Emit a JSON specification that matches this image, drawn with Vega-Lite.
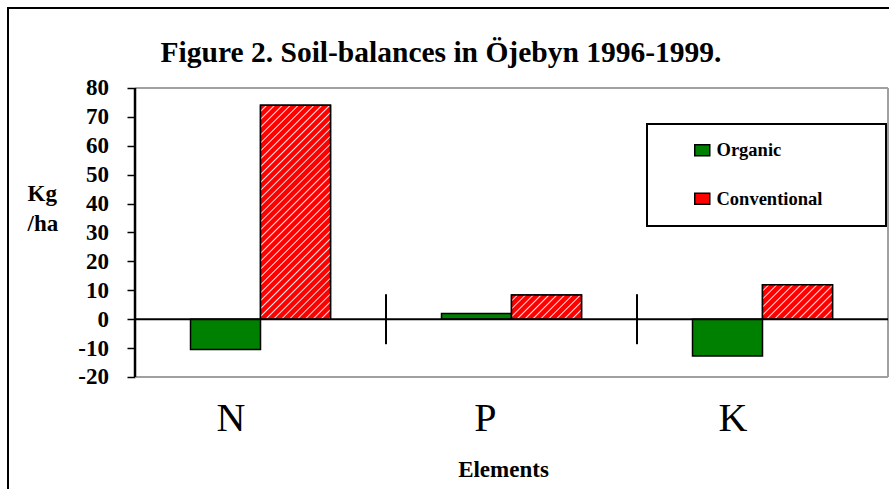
{
  "$schema": "https://vega.github.io/schema/vega-lite/v6.json",
  "width": 882,
  "height": 482,
  "padding": {"left": 8, "top": 8, "right": 0, "bottom": 0},
  "autosize": {"type": "pad"},
  "background": "white",
  "title": {
    "text": "Figure 2. Soil-balances in Öjebyn 1996-1999.",
    "font": "Liberation Serif", "fontSize": 29.5, "fontWeight": "bold", "color": "black",
    "anchor": "middle", "frame": "group", "orient": "top", "offset": 0,
    "baseline": "alphabetic", "dx": -8, "dy": 83
  },
  "config": {
    "font": "Liberation Serif",
    "view": {"stroke": "black", "strokeWidth": 2},
    "axis": {"labelFont": "Liberation Serif", "titleFont": "Liberation Serif"},
    "legend": {"strokeWidth": 2, "labelFont": "Liberation Serif", "titleFont": "Liberation Serif"}
  },
  "datasets": {
    "balances": [
      {"Element": "N", "Group": "Organic", "Balance": -10.5},
      {"Element": "N", "Group": "Conventional", "Balance": 74},
      {"Element": "P", "Group": "Organic", "Balance": 2},
      {"Element": "P", "Group": "Conventional", "Balance": 8.4},
      {"Element": "K", "Group": "Organic", "Balance": -12.7},
      {"Element": "K", "Group": "Conventional", "Balance": 11.9}
    ],
    "separators": [{"Element": "P"}, {"Element": "K"}],
    "one": [{}]
  },
  "layer": [
    {
      "data": {"name": "one"},
      "mark": {"type": "rule", "color": "#a0a0a0", "strokeWidth": 2},
      "encoding": {
        "x": {"datum": "N", "type": "nominal", "bandPosition": 0},
        "x2": {"datum": "K", "bandPosition": 1},
        "y": {"datum": 80, "type": "quantitative"}
      }
    },
    {
      "data": {"name": "one"},
      "mark": {"type": "rule", "color": "#a0a0a0", "strokeWidth": 2},
      "encoding": {
        "x": {"datum": "N", "type": "nominal", "bandPosition": 0},
        "x2": {"datum": "K", "bandPosition": 1},
        "y": {"datum": -20, "type": "quantitative"}
      }
    },
    {
      "data": {"name": "one"},
      "mark": {"type": "rule", "color": "#a0a0a0", "strokeWidth": 2},
      "encoding": {
        "x": {"datum": "K", "type": "nominal", "bandPosition": 1},
        "y": {"datum": -20, "type": "quantitative"},
        "y2": {"datum": 80}
      }
    },
    {
      "data": {"name": "balances"},
      "mark": {"type": "bar", "stroke": "black", "strokeWidth": 1.5},
      "encoding": {
        "x": {
          "field": "Element", "type": "nominal", "sort": ["N", "P", "K"],
          "scale": {"domain": ["N", "P", "K"], "paddingInner": 0, "paddingOuter": 0.257, "align": 0.9845},
          "axis": {
            "orient": "bottom", "offset": -113, "domain": false, "ticks": false, "tickSize": 0, "grid": false,
            "labelFont": "Liberation Serif", "labelFontSize": 40, "labelFontWeight": "normal", "labelColor": "black",
            "labelBaseline": "alphabetic", "labelPadding": 53, "labelOffset": -15, "labelAngle": 0,
            "labelOverlap": false, "labelFlush": false,
            "title": "Elements", "titleFont": "Liberation Serif", "titleFontSize": 23, "titleFontWeight": "bold",
            "titleColor": "black", "titleX": 495, "titleY": 99, "titleBaseline": "alphabetic", "titleAlign": "center"
          }
        },
        "xOffset": {
          "field": "Group", "type": "nominal", "sort": ["Organic", "Conventional"],
          "scale": {"domain": ["Organic", "Conventional"], "paddingInner": 0, "paddingOuter": 0.793}
        },
        "y": {
          "field": "Balance", "type": "quantitative",
          "scale": {"domain": [-59.1, 107.68], "nice": false, "zero": false},
          "axis": {
            "orient": "left", "offset": -127, "values": [-20, -10, 0, 10, 20, 30, 40, 50, 60, 70, 80],
            "domain": false, "grid": false, "ticks": true, "tickSize": 8, "tickWidth": 1.5, "tickColor": "black",
            "labelFont": "Liberation Serif", "labelFontWeight": "bold", "labelFontSize": 23, "labelColor": "black",
            "labelPadding": 18.5, "labelExpr": "'' + datum.value", "labelOverlap": false, "labelFlush": false,
            "title": ["Kg", "/ha"], "titleAngle": 0, "titleAlign": "left", "titleBaseline": "alphabetic",
            "titleX": -108, "titleY": 192.7, "titleFont": "Liberation Serif", "titleFontSize": 23,
            "titleFontWeight": "bold", "titleColor": "black", "titleLineHeight": 29.5
          }
        },
        "color": {
          "field": "Group", "type": "nominal", "sort": ["Organic", "Conventional"],
          "scale": {"domain": ["Organic", "Conventional"], "range": ["#008000", "#ff0000"]},
          "legend": {
            "orient": "none", "legendX": 639, "legendY": 116,
            "title": "\u00a0", "titleOrient": "right", "titlePadding": 47, "titleFontSize": 2,
            "fillColor": "white", "strokeColor": "black", "padding": 17,
            "labelFont": "Liberation Serif", "labelFontWeight": "bold", "labelFontSize": 18.5, "labelColor": "black",
            "labelOffset": 5, "rowPadding": 29.5, "symbolOffset": 29,
            "symbolType": "M-1,-0.73H1V0.73H-1Z", "symbolSize": 225,
            "symbolStrokeColor": "black", "symbolStrokeWidth": 1.5
          }
        }
      }
    },
    {
      "data": {"name": "balances"},
      "transform": [{"filter": "datum.Group === 'Conventional'"}],
      "mark": {"type": "bar", "stroke": "black", "strokeWidth": 1.5},
      "encoding": {
        "x": {"field": "Element", "type": "nominal", "sort": ["N", "P", "K"]},
        "xOffset": {"field": "Group", "type": "nominal", "sort": ["Organic", "Conventional"]},
        "y": {"field": "Balance", "type": "quantitative"},
        "fill": {
          "condition": [
            {
              "test": "datum.Element === 'N'",
              "value": {
                "gradient": "linear", "x1": 0, "y1": 0, "x2": 0.3922, "y2": 1.1989,
                "stops": [
                  {"offset": 0, "color": "#ff0000"},
                  {"offset": 0.0167, "color": "#ff0000"}, {"offset": 0.0217, "color": "#ffe6e6"}, {"offset": 0.0267, "color": "#ff0000"},
                  {"offset": 0.0444, "color": "#ff0000"}, {"offset": 0.0494, "color": "#ffe6e6"}, {"offset": 0.0544, "color": "#ff0000"},
                  {"offset": 0.0722, "color": "#ff0000"}, {"offset": 0.0772, "color": "#ffe6e6"}, {"offset": 0.0822, "color": "#ff0000"},
                  {"offset": 0.1000, "color": "#ff0000"}, {"offset": 0.1050, "color": "#ffe6e6"}, {"offset": 0.1100, "color": "#ff0000"},
                  {"offset": 0.1278, "color": "#ff0000"}, {"offset": 0.1328, "color": "#ffe6e6"}, {"offset": 0.1378, "color": "#ff0000"},
                  {"offset": 0.1556, "color": "#ff0000"}, {"offset": 0.1606, "color": "#ffe6e6"}, {"offset": 0.1656, "color": "#ff0000"},
                  {"offset": 0.1833, "color": "#ff0000"}, {"offset": 0.1883, "color": "#ffe6e6"}, {"offset": 0.1933, "color": "#ff0000"},
                  {"offset": 0.2111, "color": "#ff0000"}, {"offset": 0.2161, "color": "#ffe6e6"}, {"offset": 0.2211, "color": "#ff0000"},
                  {"offset": 0.2389, "color": "#ff0000"}, {"offset": 0.2439, "color": "#ffe6e6"}, {"offset": 0.2489, "color": "#ff0000"},
                  {"offset": 0.2667, "color": "#ff0000"}, {"offset": 0.2717, "color": "#ffe6e6"}, {"offset": 0.2767, "color": "#ff0000"},
                  {"offset": 0.2944, "color": "#ff0000"}, {"offset": 0.2994, "color": "#ffe6e6"}, {"offset": 0.3044, "color": "#ff0000"},
                  {"offset": 0.3222, "color": "#ff0000"}, {"offset": 0.3272, "color": "#ffe6e6"}, {"offset": 0.3322, "color": "#ff0000"},
                  {"offset": 0.3500, "color": "#ff0000"}, {"offset": 0.3550, "color": "#ffe6e6"}, {"offset": 0.3600, "color": "#ff0000"},
                  {"offset": 0.3778, "color": "#ff0000"}, {"offset": 0.3828, "color": "#ffe6e6"}, {"offset": 0.3878, "color": "#ff0000"},
                  {"offset": 0.4056, "color": "#ff0000"}, {"offset": 0.4106, "color": "#ffe6e6"}, {"offset": 0.4156, "color": "#ff0000"},
                  {"offset": 0.4333, "color": "#ff0000"}, {"offset": 0.4383, "color": "#ffe6e6"}, {"offset": 0.4433, "color": "#ff0000"},
                  {"offset": 0.4611, "color": "#ff0000"}, {"offset": 0.4661, "color": "#ffe6e6"}, {"offset": 0.4711, "color": "#ff0000"},
                  {"offset": 0.4889, "color": "#ff0000"}, {"offset": 0.4939, "color": "#ffe6e6"}, {"offset": 0.4989, "color": "#ff0000"},
                  {"offset": 0.5167, "color": "#ff0000"}, {"offset": 0.5217, "color": "#ffe6e6"}, {"offset": 0.5267, "color": "#ff0000"},
                  {"offset": 0.5444, "color": "#ff0000"}, {"offset": 0.5494, "color": "#ffe6e6"}, {"offset": 0.5544, "color": "#ff0000"},
                  {"offset": 0.5722, "color": "#ff0000"}, {"offset": 0.5772, "color": "#ffe6e6"}, {"offset": 0.5822, "color": "#ff0000"},
                  {"offset": 0.6000, "color": "#ff0000"}, {"offset": 0.6050, "color": "#ffe6e6"}, {"offset": 0.6100, "color": "#ff0000"},
                  {"offset": 0.6278, "color": "#ff0000"}, {"offset": 0.6328, "color": "#ffe6e6"}, {"offset": 0.6378, "color": "#ff0000"},
                  {"offset": 0.6556, "color": "#ff0000"}, {"offset": 0.6606, "color": "#ffe6e6"}, {"offset": 0.6656, "color": "#ff0000"},
                  {"offset": 0.6833, "color": "#ff0000"}, {"offset": 0.6883, "color": "#ffe6e6"}, {"offset": 0.6933, "color": "#ff0000"},
                  {"offset": 0.7111, "color": "#ff0000"}, {"offset": 0.7161, "color": "#ffe6e6"}, {"offset": 0.7211, "color": "#ff0000"},
                  {"offset": 0.7389, "color": "#ff0000"}, {"offset": 0.7439, "color": "#ffe6e6"}, {"offset": 0.7489, "color": "#ff0000"},
                  {"offset": 0.7667, "color": "#ff0000"}, {"offset": 0.7717, "color": "#ffe6e6"}, {"offset": 0.7767, "color": "#ff0000"},
                  {"offset": 0.7944, "color": "#ff0000"}, {"offset": 0.7994, "color": "#ffe6e6"}, {"offset": 0.8044, "color": "#ff0000"},
                  {"offset": 0.8222, "color": "#ff0000"}, {"offset": 0.8272, "color": "#ffe6e6"}, {"offset": 0.8322, "color": "#ff0000"},
                  {"offset": 0.8500, "color": "#ff0000"}, {"offset": 0.8550, "color": "#ffe6e6"}, {"offset": 0.8600, "color": "#ff0000"},
                  {"offset": 0.8778, "color": "#ff0000"}, {"offset": 0.8828, "color": "#ffe6e6"}, {"offset": 0.8878, "color": "#ff0000"},
                  {"offset": 0.9056, "color": "#ff0000"}, {"offset": 0.9106, "color": "#ffe6e6"}, {"offset": 0.9156, "color": "#ff0000"},
                  {"offset": 0.9333, "color": "#ff0000"}, {"offset": 0.9383, "color": "#ffe6e6"}, {"offset": 0.9433, "color": "#ff0000"},
                  {"offset": 0.9611, "color": "#ff0000"}, {"offset": 0.9661, "color": "#ffe6e6"}, {"offset": 0.9711, "color": "#ff0000"},
                  {"offset": 0.9889, "color": "#ff0000"}, {"offset": 0.9939, "color": "#ffe6e6"}, {"offset": 0.9989, "color": "#ff0000"},
                  {"offset": 1, "color": "#ff0000"}
                ]
              }
            },
            {
              "test": "datum.Element === 'P'",
              "value": {
                "gradient": "linear", "x1": 0, "y1": 0, "x2": 1.2023, "y2": 0.4174,
                "stops": [
                  {"offset": 0, "color": "#ff0000"},
                  {"offset": 0.05, "color": "#ff0000"}, {"offset": 0.065, "color": "#ffe6e6"}, {"offset": 0.08, "color": "#ff0000"},
                  {"offset": 0.1333, "color": "#ff0000"}, {"offset": 0.1483, "color": "#ffe6e6"}, {"offset": 0.1633, "color": "#ff0000"},
                  {"offset": 0.2167, "color": "#ff0000"}, {"offset": 0.2317, "color": "#ffe6e6"}, {"offset": 0.2467, "color": "#ff0000"},
                  {"offset": 0.3, "color": "#ff0000"}, {"offset": 0.315, "color": "#ffe6e6"}, {"offset": 0.33, "color": "#ff0000"},
                  {"offset": 0.3833, "color": "#ff0000"}, {"offset": 0.3983, "color": "#ffe6e6"}, {"offset": 0.4133, "color": "#ff0000"},
                  {"offset": 0.4667, "color": "#ff0000"}, {"offset": 0.4817, "color": "#ffe6e6"}, {"offset": 0.4967, "color": "#ff0000"},
                  {"offset": 0.55, "color": "#ff0000"}, {"offset": 0.565, "color": "#ffe6e6"}, {"offset": 0.58, "color": "#ff0000"},
                  {"offset": 0.6333, "color": "#ff0000"}, {"offset": 0.6483, "color": "#ffe6e6"}, {"offset": 0.6633, "color": "#ff0000"},
                  {"offset": 0.7167, "color": "#ff0000"}, {"offset": 0.7317, "color": "#ffe6e6"}, {"offset": 0.7467, "color": "#ff0000"},
                  {"offset": 0.8, "color": "#ff0000"}, {"offset": 0.815, "color": "#ffe6e6"}, {"offset": 0.83, "color": "#ff0000"},
                  {"offset": 0.8833, "color": "#ff0000"}, {"offset": 0.8983, "color": "#ffe6e6"}, {"offset": 0.9133, "color": "#ff0000"},
                  {"offset": 0.9667, "color": "#ff0000"}, {"offset": 0.9817, "color": "#ffe6e6"}, {"offset": 0.9967, "color": "#ff0000"},
                  {"offset": 1, "color": "#ff0000"}
                ]
              }
            }
          ],
          "value": {
            "gradient": "linear", "x1": 0, "y1": 0, "x2": 1.2013, "y2": 0.5904,
            "stops": [
              {"offset": 0, "color": "#ff0000"},
              {"offset": 0.0462, "color": "#ff0000"}, {"offset": 0.06, "color": "#ffe6e6"}, {"offset": 0.0738, "color": "#ff0000"},
              {"offset": 0.1231, "color": "#ff0000"}, {"offset": 0.1369, "color": "#ffe6e6"}, {"offset": 0.1508, "color": "#ff0000"},
              {"offset": 0.2, "color": "#ff0000"}, {"offset": 0.2138, "color": "#ffe6e6"}, {"offset": 0.2277, "color": "#ff0000"},
              {"offset": 0.2769, "color": "#ff0000"}, {"offset": 0.2908, "color": "#ffe6e6"}, {"offset": 0.3046, "color": "#ff0000"},
              {"offset": 0.3538, "color": "#ff0000"}, {"offset": 0.3677, "color": "#ffe6e6"}, {"offset": 0.3815, "color": "#ff0000"},
              {"offset": 0.4308, "color": "#ff0000"}, {"offset": 0.4446, "color": "#ffe6e6"}, {"offset": 0.4585, "color": "#ff0000"},
              {"offset": 0.5077, "color": "#ff0000"}, {"offset": 0.5215, "color": "#ffe6e6"}, {"offset": 0.5354, "color": "#ff0000"},
              {"offset": 0.5846, "color": "#ff0000"}, {"offset": 0.5985, "color": "#ffe6e6"}, {"offset": 0.6123, "color": "#ff0000"},
              {"offset": 0.6615, "color": "#ff0000"}, {"offset": 0.6754, "color": "#ffe6e6"}, {"offset": 0.6892, "color": "#ff0000"},
              {"offset": 0.7385, "color": "#ff0000"}, {"offset": 0.7523, "color": "#ffe6e6"}, {"offset": 0.7662, "color": "#ff0000"},
              {"offset": 0.8154, "color": "#ff0000"}, {"offset": 0.8292, "color": "#ffe6e6"}, {"offset": 0.8431, "color": "#ff0000"},
              {"offset": 0.8923, "color": "#ff0000"}, {"offset": 0.9062, "color": "#ffe6e6"}, {"offset": 0.92, "color": "#ff0000"},
              {"offset": 0.9692, "color": "#ff0000"}, {"offset": 0.9831, "color": "#ffe6e6"}, {"offset": 0.9969, "color": "#ff0000"},
              {"offset": 1, "color": "#ff0000"}
            ]
          }
        }
      }
    },
    {
      "data": {"name": "one"},
      "mark": {"type": "rule", "color": "black", "strokeWidth": 2},
      "encoding": {
        "x": {"datum": "N", "type": "nominal", "bandPosition": 0},
        "x2": {"datum": "K", "bandPosition": 1},
        "y": {"datum": 0, "type": "quantitative"}
      }
    },
    {
      "data": {"name": "separators"},
      "mark": {"type": "rule", "color": "black", "strokeWidth": 2},
      "encoding": {
        "x": {"field": "Element", "type": "nominal", "bandPosition": 0},
        "y": {"datum": 8.65, "type": "quantitative"},
        "y2": {"datum": -8.65}
      }
    },
    {
      "data": {"name": "one"},
      "mark": {"type": "rule", "color": "black", "strokeWidth": 2.5},
      "encoding": {
        "x": {"datum": "N", "type": "nominal", "bandPosition": 0},
        "y": {"datum": -20, "type": "quantitative"},
        "y2": {"datum": 80}
      }
    }
  ]
}
